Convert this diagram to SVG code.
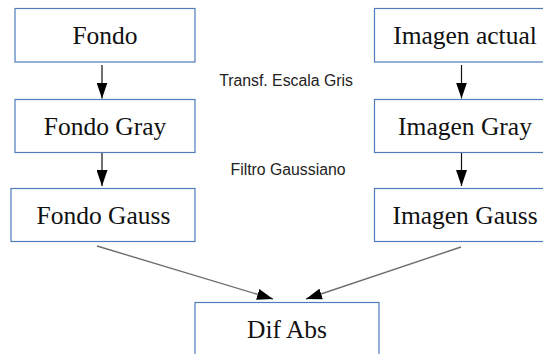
<svg xmlns="http://www.w3.org/2000/svg" width="543" height="354" viewBox="0 0 543 354">
  <style>
    .box { fill: #ffffff; stroke: #4f7cba; stroke-width: 1.2; }
    .name { font-family: "Liberation Serif", "Times New Roman", serif; font-size: 25.5px; fill: #111111; text-anchor: middle; }
    .step { font-family: "Liberation Sans", Arial, sans-serif; font-size: 15.8px; fill: #222222; text-anchor: middle; }
    .down { stroke: #111111; stroke-width: 1.2; fill: none; }
    .merge { stroke: #6e6e6e; stroke-width: 1.4; fill: none; }
  </style>
  <defs>
    <marker id="head" viewBox="0 0 16 11" refX="16" refY="5.5" markerWidth="16" markerHeight="11" markerUnits="userSpaceOnUse" orient="auto">
      <path d="M0,0 L16,5.5 L0,11 z" fill="#000000"/>
    </marker>
  </defs>
  <rect width="543" height="354" fill="#ffffff"/>

  <!-- connectors -->
  <g id="connectors">
    <line class="down" x1="102" y1="65" x2="102" y2="98.5" marker-end="url(#head)"/>
    <line class="down" x1="102" y1="153" x2="102" y2="186" marker-end="url(#head)"/>
    <line class="down" x1="461.5" y1="65" x2="461.5" y2="98.5" marker-end="url(#head)"/>
    <line class="down" x1="461.5" y1="153" x2="461.5" y2="186" marker-end="url(#head)"/>
    <line class="merge" x1="97" y1="246" x2="273" y2="299" marker-end="url(#head)"/>
    <line class="merge" x1="461" y1="247" x2="306" y2="299" marker-end="url(#head)"/>
  </g>

  <!-- step labels -->
  <text class="step" x="286" y="86">Transf. Escala Gris</text>
  <text class="step" x="288" y="175">Filtro Gaussiano</text>

  <!-- background column -->
  <g id="fondo">
    <rect class="box" x="15" y="8.5" width="180" height="53.5"/>
    <text class="name" x="105" y="44">Fondo</text>
  </g>
  <g id="fondo-gray">
    <rect class="box" x="15" y="99.5" width="180" height="53"/>
    <text class="name" x="105" y="134.5">Fondo Gray</text>
  </g>
  <g id="fondo-gauss">
    <rect class="box" x="11" y="188.5" width="184" height="53"/>
    <text class="name" x="103.5" y="224">Fondo Gauss</text>
  </g>

  <!-- current image column -->
  <g id="imagen-actual">
    <rect class="box" x="374.5" y="8.5" width="182" height="53.5"/>
    <text class="name" x="465" y="44">Imagen actual</text>
  </g>
  <g id="imagen-gray">
    <rect class="box" x="374.5" y="99.5" width="182" height="53"/>
    <text class="name" x="465" y="134.5">Imagen Gray</text>
  </g>
  <g id="imagen-gauss">
    <rect class="box" x="374.5" y="188.5" width="182" height="53"/>
    <text class="name" x="465" y="224">Imagen Gauss</text>
  </g>

  <!-- result -->
  <g id="dif-abs">
    <rect class="box" x="195" y="302.5" width="184" height="60"/>
    <text class="name" x="287" y="338">Dif Abs</text>
  </g>
</svg>
